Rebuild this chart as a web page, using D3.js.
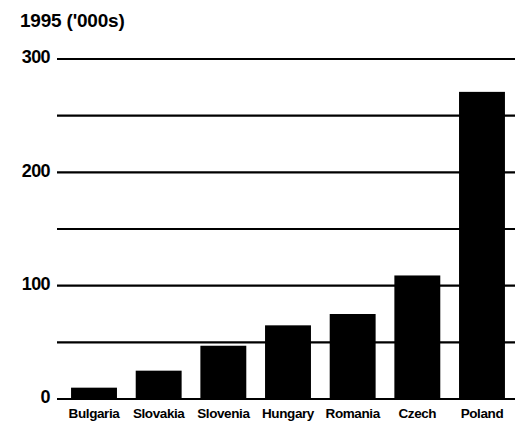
<!DOCTYPE html>
<html>
<head>
<meta charset="utf-8">
<script src="https://cdn.jsdelivr.net/npm/d3@7"></script>
<style>
  html, body { margin: 0; padding: 0; background: #fff; }
  svg { display: block; font-family: "Liberation Sans", Arial, sans-serif; font-weight: bold; }
</style>
</head>
<body>
<svg id="chart" width="523" height="427"></svg>
<script>
// Bar chart, 1995 values in thousands
const countries = ['Bulgaria','Slovakia','Slovenia','Hungary','Romania','Czech','Poland'];
const values = [10, 25, 47, 65, 75, 109, 271];
const gridTicks = [0, 50, 100, 150, 200, 250, 300];
const labelTicks = [0, 100, 200, 300];

const svg = d3.select('#chart');

const x = d3.scaleBand().domain(countries).range([62, 514]).paddingInner(0.29).paddingOuter(0.14);
const y = d3.scaleLinear().domain([0, 300]).range([399, 59]);

// title / unit
svg.append('text')
  .attr('x', 20).attr('y', 27)
  .style('font-size', '19px')
  .style('letter-spacing', '-0.2px')
  .text("1995 ('000s)");

// gridlines
svg.append('g').selectAll('line').data(gridTicks).join('line')
  .attr('x1', 57).attr('x2', 515)
  .attr('y1', d => y(d)).attr('y2', d => y(d))
  .attr('stroke', '#000').attr('stroke-width', 2.2);

// y labels
svg.append('g').selectAll('text').data(labelTicks).join('text')
  .attr('x', 50).attr('y', d => y(d) - 2)
  .attr('text-anchor', 'end')
  .attr('dy', '0.35em')
  .style('font-size', '18px')
  .style('letter-spacing', '-0.6px')
  .text(d => d);

// bars
svg.append('g').selectAll('rect').data(countries).join('rect')
  .attr('x', d => x(d))
  .attr('width', x.bandwidth())
  .attr('y', (d, i) => y(values[i]))
  .attr('height', (d, i) => y(0) - y(values[i]))
  .attr('fill', '#000');

// category labels
svg.append('g').selectAll('text').data(countries).join('text')
  .attr('x', d => x(d) + x.bandwidth() / 2)
  .attr('y', 418)
  .attr('text-anchor', 'middle')
  .style('font-size', '13.5px')
  .style('letter-spacing', '-0.4px')
  .text(d => d);
</script>
</body>
</html>
